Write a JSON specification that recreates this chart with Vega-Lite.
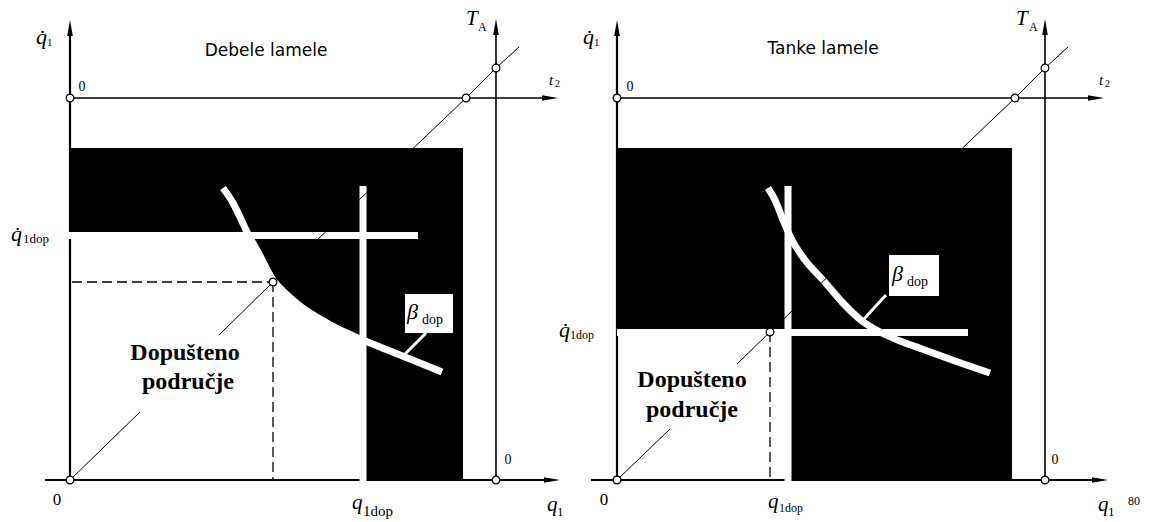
{
  "$schema": "https://vega.github.io/schema/vega-lite/v6.json",
  "width": 1150,
  "height": 522,
  "autosize": {"type": "fit", "contains": "padding"},
  "padding": 0,
  "background": "white",
  "config": {"view": {"stroke": null}},
  "encoding": {
    "x": {"field": "x", "type": "quantitative", "scale": {"domain": [0, 1150], "nice": false, "zero": false}, "axis": null},
    "y": {"field": "y", "type": "quantitative", "scale": {"domain": [0, 522], "nice": false, "zero": false, "reverse": true}, "axis": null}
  },
  "datasets": {
    "black": [
      {"x": 69, "x2": 463, "y": 148, "y2": 480},
      {"x": 617, "x2": 1012, "y": 148, "y2": 480}
    ],
    "region": [
      {"x": 70, "y": 232, "y2": 480},
      {"x": 247, "y": 232, "y2": 480},
      {"x": 258, "y": 252, "y2": 480},
      {"x": 273, "y": 280, "y2": 480},
      {"x": 285, "y": 293, "y2": 480},
      {"x": 300, "y": 306, "y2": 480},
      {"x": 320, "y": 319, "y2": 480},
      {"x": 340, "y": 330, "y2": 480},
      {"x": 363, "y": 340, "y2": 480}
    ],
    "whiteRects": [
      {"x": 617, "x2": 788, "y": 329, "y2": 480},
      {"x": 405, "x2": 453, "y": 294, "y2": 333},
      {"x": 889, "x2": 939, "y": 255, "y2": 296}
    ],
    "axesThick": [
      {"x": 70, "y": 28, "x2": 70, "y2": 480},
      {"x": 617, "y": 28, "x2": 617, "y2": 480},
      {"x": 45, "y": 480, "x2": 552, "y2": 480},
      {"x": 591, "y": 480, "x2": 1100, "y2": 480}
    ],
    "axesThin": [
      {"x": 70, "y": 98, "x2": 550, "y2": 98},
      {"x": 617, "y": 98, "x2": 1096, "y2": 98},
      {"x": 496, "y": 28, "x2": 496, "y2": 480},
      {"x": 1045, "y": 28, "x2": 1045, "y2": 480}
    ],
    "whiteLines": [
      {"x": 68, "y": 235.5, "x2": 418, "y2": 235.5},
      {"x": 363, "y": 186, "x2": 363, "y2": 482},
      {"x": 788, "y": 186, "x2": 788, "y2": 482},
      {"x": 617, "y": 332.5, "x2": 968, "y2": 332.5}
    ],
    "curves": [
      {"p": "L", "o": 1, "x": 223, "y": 188},
      {"p": "L", "o": 2, "x": 233, "y": 203},
      {"p": "L", "o": 3, "x": 240, "y": 217},
      {"p": "L", "o": 4, "x": 247, "y": 232},
      {"p": "L", "o": 5, "x": 258, "y": 252},
      {"p": "L", "o": 6, "x": 273, "y": 280},
      {"p": "L", "o": 7, "x": 285, "y": 293},
      {"p": "L", "o": 8, "x": 300, "y": 306},
      {"p": "L", "o": 9, "x": 320, "y": 319},
      {"p": "L", "o": 10, "x": 340, "y": 330},
      {"p": "L", "o": 11, "x": 363, "y": 340},
      {"p": "L", "o": 12, "x": 390, "y": 351},
      {"p": "L", "o": 13, "x": 415, "y": 361},
      {"p": "L", "o": 14, "x": 442, "y": 372},
      {"p": "R", "o": 1, "x": 768, "y": 188},
      {"p": "R", "o": 2, "x": 775, "y": 200},
      {"p": "R", "o": 3, "x": 783, "y": 220},
      {"p": "R", "o": 4, "x": 792, "y": 240},
      {"p": "R", "o": 5, "x": 805, "y": 260},
      {"p": "R", "o": 6, "x": 823, "y": 280},
      {"p": "R", "o": 7, "x": 842, "y": 302},
      {"p": "R", "o": 8, "x": 862, "y": 321},
      {"p": "R", "o": 9, "x": 882, "y": 333},
      {"p": "R", "o": 10, "x": 900, "y": 341},
      {"p": "R", "o": 11, "x": 922, "y": 349},
      {"p": "R", "o": 12, "x": 955, "y": 361},
      {"p": "R", "o": 13, "x": 990, "y": 373}
    ],
    "leaders": [
      {"x": 426, "y": 333, "x2": 403, "y2": 356},
      {"x": 886, "y": 295, "x2": 863, "y2": 320}
    ],
    "dashed": [
      {"x": 72, "y": 282, "x2": 273, "y2": 282},
      {"x": 273, "y": 282, "x2": 273, "y2": 480},
      {"x": 770, "y": 332, "x2": 770, "y2": 480}
    ],
    "diagonal": [
      {"s": "L1", "o": 1, "x": 70, "y": 480},
      {"s": "L1", "o": 2, "x": 140, "y": 412},
      {"s": "L2", "o": 1, "x": 219, "y": 335},
      {"s": "L2", "o": 2, "x": 273, "y": 282},
      {"s": "L2", "o": 3, "x": 466, "y": 98},
      {"s": "L2", "o": 4, "x": 496, "y": 68},
      {"s": "L2", "o": 5, "x": 519, "y": 47},
      {"s": "R1", "o": 1, "x": 617, "y": 480},
      {"s": "R1", "o": 2, "x": 670, "y": 429},
      {"s": "R2", "o": 1, "x": 737, "y": 364},
      {"s": "R2", "o": 2, "x": 770, "y": 332},
      {"s": "R2", "o": 3, "x": 1015, "y": 98},
      {"s": "R2", "o": 4, "x": 1045, "y": 68},
      {"s": "R2", "o": 5, "x": 1068, "y": 47}
    ],
    "circles": [
      {"x": 70, "y": 98}, {"x": 466, "y": 98}, {"x": 496, "y": 68}, {"x": 273, "y": 282}, {"x": 70, "y": 480}, {"x": 496, "y": 480},
      {"x": 617, "y": 98}, {"x": 1015, "y": 98}, {"x": 1045, "y": 68}, {"x": 770, "y": 332}, {"x": 617, "y": 480}, {"x": 1045, "y": 480}
    ],
    "arrowsUp": [
      {"x": 70, "y": 28}, {"x": 496, "y": 27}, {"x": 617, "y": 28}, {"x": 1045, "y": 27}
    ],
    "arrowsRight": [
      {"x": 550, "y": 98}, {"x": 552, "y": 480}, {"x": 1096, "y": 98}, {"x": 1100, "y": 480}
    ],
    "italic": [
      {"t": "q̇", "x": 36, "y": 37, "fs": 22},
      {"t": "q̇", "x": 583, "y": 37, "fs": 22},
      {"t": "T", "x": 466, "y": 19, "fs": 21},
      {"t": "T", "x": 1016, "y": 19, "fs": 21},
      {"t": "t", "x": 549, "y": 80, "fs": 15},
      {"t": "t", "x": 1099, "y": 80, "fs": 15},
      {"t": "q̇", "x": 11, "y": 234, "fs": 22},
      {"t": "q̇", "x": 559, "y": 330, "fs": 22},
      {"t": "q", "x": 352, "y": 503, "fs": 21},
      {"t": "q", "x": 768, "y": 502, "fs": 21},
      {"t": "q", "x": 547, "y": 505, "fs": 21},
      {"t": "q", "x": 1098, "y": 505, "fs": 21},
      {"t": "β", "x": 407, "y": 312, "fs": 22},
      {"t": "β", "x": 892, "y": 274, "fs": 22}
    ],
    "subs": [
      {"t": "1", "x": 47, "y": 43, "fs": 11},
      {"t": "1", "x": 594, "y": 43, "fs": 11},
      {"t": "A", "x": 478, "y": 27, "fs": 12},
      {"t": "A", "x": 1029, "y": 27, "fs": 12},
      {"t": "2", "x": 555, "y": 84, "fs": 10},
      {"t": "2", "x": 1105, "y": 84, "fs": 10},
      {"t": "1dop", "x": 23, "y": 239, "fs": 13},
      {"t": "1dop", "x": 570, "y": 335, "fs": 12},
      {"t": "1dop", "x": 363, "y": 511, "fs": 15},
      {"t": "1dop", "x": 779, "y": 508, "fs": 12},
      {"t": "1", "x": 557, "y": 512, "fs": 13},
      {"t": "1", "x": 1108, "y": 512, "fs": 13},
      {"t": "dop", "x": 422, "y": 320, "fs": 14},
      {"t": "dop", "x": 907, "y": 282, "fs": 14}
    ],
    "zeros": [
      {"t": "0", "x": 82, "y": 87, "fs": 14},
      {"t": "0", "x": 630, "y": 87, "fs": 14},
      {"t": "0", "x": 508, "y": 460, "fs": 14},
      {"t": "0", "x": 1055, "y": 460, "fs": 14},
      {"t": "0", "x": 57, "y": 500, "fs": 17},
      {"t": "0", "x": 604, "y": 500, "fs": 17},
      {"t": "80", "x": 1134, "y": 501, "fs": 12}
    ],
    "titles": [
      {"t": "Debele lamele", "x": 266, "y": 51, "fs": 17},
      {"t": "Tanke lamele", "x": 823, "y": 49, "fs": 17}
    ],
    "bold": [
      {"t": "Dopušteno", "x": 185, "y": 353, "fs": 24},
      {"t": "područje", "x": 188, "y": 382, "fs": 24},
      {"t": "Dopušteno", "x": 692, "y": 380, "fs": 24},
      {"t": "područje", "x": 692, "y": 410, "fs": 24}
    ]
  },
  "layer": [
    {
      "data": {"name": "black"},
      "mark": {"type": "rect", "color": "black"},
      "encoding": {"x2": {"field": "x2"}, "y2": {"field": "y2"}}
    },
    {
      "data": {"name": "region"},
      "mark": {"type": "area", "color": "white", "opacity": 1, "orient": "vertical", "interpolate": "monotone"},
      "encoding": {"y2": {"field": "y2"}}
    },
    {
      "data": {"name": "whiteRects"},
      "mark": {"type": "rect", "color": "white"},
      "encoding": {"x2": {"field": "x2"}, "y2": {"field": "y2"}}
    },
    {
      "data": {"name": "axesThick"},
      "mark": {"type": "rule", "color": "black", "strokeWidth": 2.2},
      "encoding": {"x2": {"field": "x2"}, "y2": {"field": "y2"}}
    },
    {
      "data": {"name": "axesThin"},
      "mark": {"type": "rule", "color": "black", "strokeWidth": 1.6},
      "encoding": {"x2": {"field": "x2"}, "y2": {"field": "y2"}}
    },
    {
      "data": {"name": "whiteLines"},
      "mark": {"type": "rule", "color": "white", "strokeWidth": 7},
      "encoding": {"x2": {"field": "x2"}, "y2": {"field": "y2"}}
    },
    {
      "data": {"name": "curves"},
      "mark": {"type": "line", "color": "white", "strokeWidth": 7, "interpolate": "monotone"},
      "encoding": {"detail": {"field": "p"}, "order": {"field": "o", "type": "quantitative"}}
    },
    {
      "data": {"name": "leaders"},
      "mark": {"type": "rule", "color": "white", "strokeWidth": 3},
      "encoding": {"x2": {"field": "x2"}, "y2": {"field": "y2"}}
    },
    {
      "data": {"name": "dashed"},
      "mark": {"type": "rule", "color": "black", "strokeWidth": 1.3, "strokeDash": [10, 5]},
      "encoding": {"x2": {"field": "x2"}, "y2": {"field": "y2"}}
    },
    {
      "data": {"name": "diagonal"},
      "mark": {"type": "line", "color": "black", "strokeWidth": 1},
      "encoding": {"detail": {"field": "s"}, "order": {"field": "o", "type": "quantitative"}}
    },
    {
      "data": {"name": "circles"},
      "mark": {"type": "point", "shape": "circle", "filled": true, "fill": "white", "stroke": "black", "strokeWidth": 1.2, "size": 60, "opacity": 1}
    },
    {
      "data": {"name": "arrowsUp"},
      "mark": {"type": "point", "shape": "M0,-1L0.35,1L-0.35,1Z", "filled": true, "color": "black", "size": 256, "opacity": 1}
    },
    {
      "data": {"name": "arrowsRight"},
      "mark": {"type": "point", "shape": "M1,0L-1,0.35L-1,-0.35Z", "filled": true, "color": "black", "size": 256, "opacity": 1}
    },
    {
      "data": {"name": "italic"},
      "mark": {"type": "text", "font": "Liberation Serif", "fontStyle": "italic", "color": "black", "align": "left", "baseline": "middle"},
      "encoding": {"text": {"field": "t"}, "size": {"field": "fs", "type": "quantitative", "scale": null}}
    },
    {
      "data": {"name": "subs"},
      "mark": {"type": "text", "font": "Liberation Serif", "color": "black", "align": "left", "baseline": "middle"},
      "encoding": {"text": {"field": "t"}, "size": {"field": "fs", "type": "quantitative", "scale": null}}
    },
    {
      "data": {"name": "zeros"},
      "mark": {"type": "text", "font": "Liberation Serif", "color": "black", "align": "center", "baseline": "middle"},
      "encoding": {"text": {"field": "t"}, "size": {"field": "fs", "type": "quantitative", "scale": null}}
    },
    {
      "data": {"name": "titles"},
      "mark": {"type": "text", "font": "DejaVu Sans", "color": "black", "align": "center", "baseline": "middle"},
      "encoding": {"text": {"field": "t"}, "size": {"field": "fs", "type": "quantitative", "scale": null}}
    },
    {
      "data": {"name": "bold"},
      "mark": {"type": "text", "font": "Liberation Serif", "fontWeight": "bold", "color": "black", "align": "center", "baseline": "middle"},
      "encoding": {"text": {"field": "t"}, "size": {"field": "fs", "type": "quantitative", "scale": null}}
    }
  ]
}
